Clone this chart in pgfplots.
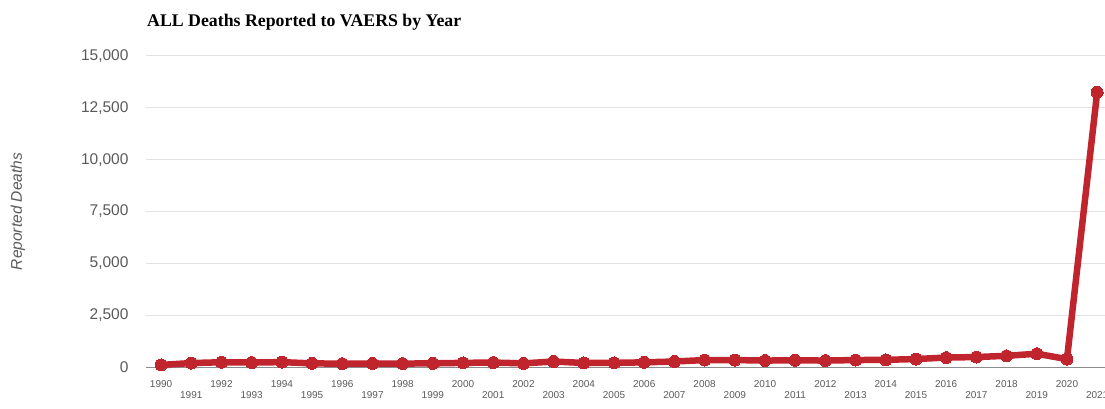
\documentclass[border=0pt]{standalone}
\usepackage{pgfplots}
\pgfplotsset{compat=1.18}
\usepackage{fontspec}
\setmainfont{Liberation Sans}
\newfontfamily\titlefont{Liberation Serif}
\definecolor{linered}{RGB}{192,36,44}
\definecolor{gridgray}{RGB}{226,226,226}
\definecolor{axisgray}{RGB}{140,140,140}
\definecolor{ticktext}{RGB}{90,90,90}
\begin{document}
\begin{tikzpicture}[x=1pt,y=1pt]
\useasboundingbox (0,0) rectangle (1105,408);
\begin{axis}[
  at={(146pt,41pt)}, anchor=south west,
  scale only axis, width=959pt, height=311pt,
  xmin=1989.5, xmax=2021.26,
  ymin=0, ymax=15000,
  clip=false,
  scaled y ticks=false,
  axis x line=bottom, axis y line=left,
  x axis line style={-, draw=axisgray, line width=0.8pt},
  y axis line style={draw=none},
  major tick length=0pt,
  ymajorgrids, grid style={gridgray, line width=1pt},
  ytick={0,2500,...,15000},
  xtick={1990,1992,...,2020},
  extra x ticks={1991,1993,...,2021},
  extra x tick style={xticklabel style={yshift=-11pt}, grid=none},
  x tick label style={/pgf/number format/1000 sep={}, /pgf/number format/assume math mode=true},
  y tick label style={/pgf/number format/1000 sep={,}, /pgf/number format/assume math mode=true},
  xticklabel style={font=\fontsize{10}{10}\selectfont, text=ticktext, yshift=-9.5pt},
  yticklabel style={font=\fontsize{15.5}{16}\selectfont, text=ticktext, xshift=-14pt},
  title={ALL Deaths Reported to VAERS by Year},
  title style={at={(axis description cs:0.001,1)}, anchor=base west, yshift=23.5pt, inner sep=0pt, font=\titlefont\bfseries\fontsize{17.8}{18}\selectfont},
  ylabel={Reported Deaths},
  ylabel style={at={(axis description cs:-0.1335,0.5)}, anchor=center, font=\itshape\fontsize{15.5}{16}\selectfont, text=ticktext},
]
\addplot[color=linered, line width=6.5pt, mark=*, mark size=6pt, mark options={fill=linered, draw=linered, line width=0pt}]
coordinates {
(1990,100) (1991,190) (1992,230) (1993,215) (1994,235) (1995,175) (1996,160) (1997,170)
(1998,165) (1999,175) (2000,200) (2001,215) (2002,175) (2003,265) (2004,195) (2005,200)
(2006,225) (2007,265) (2008,335) (2009,335) (2010,310) (2011,325) (2012,310) (2013,335)
(2014,345) (2015,385) (2016,455) (2017,480) (2018,540) (2019,640) (2020,380) (2021,13250)
};
\end{axis}
\end{tikzpicture}
\end{document}
